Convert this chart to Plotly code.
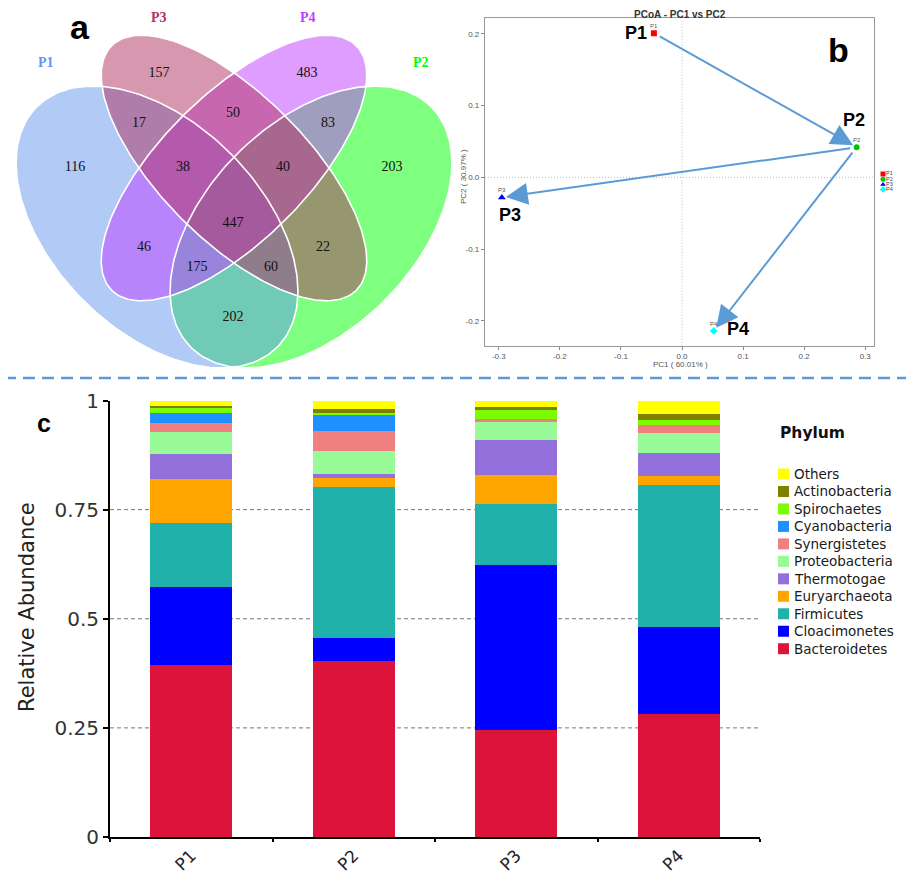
import numpy as np
import plotly.graph_objects as go

W, H = 914, 883
OFF = 8  # page body margin compensation (pixels)

# ---------------- data ----------------
venn_sets = ["P1", "P2", "P3", "P4"]
venn_set_colors = ["#6495ED", "#00FF00", "#B03060", "#BF3EFF"]
venn_region_counts = [116, 157, 483, 203, 17, 50, 83, 38, 40, 447, 46, 22, 175, 60, 202]

pcoa_samples = ["P1", "P2", "P3", "P4"]
pc1_values = [-0.046, 0.286, -0.295, 0.052]
pc2_values = [0.201, 0.042, -0.028, -0.214]
pcoa_colors = ["#FF0000", "#00C800", "#0000FF", "#00FFFF"]
pcoa_symbols = ["square", "circle", "triangle-up", "diamond"]
pcoa_arrows = [("P1", "P2"), ("P2", "P3"), ("P2", "P4")]
pc1_label = "PC1 ( 60.01% )"
pc2_label = "PC2 ( 30.97% )"

samples = ["P1", "P2", "P3", "P4"]
phyla = ["Bacteroidetes", "Cloacimonetes", "Firmicutes", "Euryarchaeota", "Thermotogae",
         "Proteobacteria", "Synergistetes", "Cyanobacteria", "Spirochaetes",
         "Actinobacteria", "Others"]
phyla_colors = ["#DC143C", "#0000FF", "#20B2AA", "#FFA500", "#9370DB", "#98FB98",
                "#F08080", "#1E90FF", "#7CFC00", "#808000", "#FFFF00"]
Bacteroidetes = [0.394, 0.404, 0.246, 0.281]
Cloacimonetes = [0.178, 0.051, 0.378, 0.199]
Firmicutes = [0.147, 0.347, 0.140, 0.326]
Euryarchaeota = [0.101, 0.021, 0.065, 0.021]
Thermotogae = [0.058, 0.009, 0.081, 0.052]
Proteobacteria = [0.049, 0.052, 0.041, 0.047]
Synergistetes = [0.022, 0.047, 0.007, 0.019]
Cyanobacteria = [0.023, 0.035, 0.000, 0.000]
Spirochaetes = [0.010, 0.005, 0.023, 0.010]
Actinobacteria = [0.005, 0.009, 0.003, 0.014]
Others = [0.013, 0.020, 0.016, 0.031]
abundance = [Bacteroidetes, Cloacimonetes, Firmicutes, Euryarchaeota, Thermotogae,
             Proteobacteria, Synergistetes, Cyanobacteria, Spirochaetes,
             Actinobacteria, Others]
y_ticks = [0, 0.25, 0.5, 0.75, 1]
y_tick_text = ["0", "0.25", "0.5", "0.75", "1"]

# ---------------- layout helpers (pixel geometry) ----------------
def fx(px):
    return (px - OFF) / W


def fy(py):
    return 1 - (py - OFF) / H


def hex_rgba(h, a):
    h = h.lstrip("#")
    return "rgba(%d,%d,%d,%.2f)" % (int(h[0:2], 16), int(h[2:4], 16), int(h[4:6], 16), a)

AX = 234.0
venn_geom = {
    "P1": (AX - 77, 227, 170, 104, 45),
    "P2": (AX + 77, 227, 170, 104, 135),
    "P3": (AX, 168, 173, 73, 45),
    "P4": (AX, 168, 173, 73, 135),
}
venn_label_xy = {"P1": (46, 62), "P2": (421, 62), "P3": (159, 17), "P4": (308, 17)}
venn_count_xy = [(75, 167), (159, 73), (307, 73), (392, 167), (139, 123), (233, 113),
                 (328, 123), (183, 167), (283, 167), (233, 223), (144, 247), (323, 247),
                 (197, 267), (271, 267), (233, 317)]
draw_order = ["P2", "P1", "P4", "P3"]


def ellipse_xy(cx, cy, a, b, ang):
    t = np.linspace(0, 2 * np.pi, 240)
    th = np.radians(ang)
    x = cx + a * np.cos(t) * np.cos(th) - b * np.sin(t) * np.sin(th)
    y = cy + a * np.cos(t) * np.sin(th) + b * np.sin(t) * np.cos(th)
    return x, y


fig = go.Figure()

for name, vals, col in zip(phyla, abundance, phyla_colors):
    fig.add_trace(go.Bar(x=samples, y=vals, name=name, marker=dict(color=col, line=dict(width=0)),
                         showlegend=False, xaxis="x", yaxis="y"))

for s, x, y, c, sym in zip(pcoa_samples, pc1_values, pc2_values, pcoa_colors, pcoa_symbols):
    fig.add_trace(go.Scatter(x=[x], y=[y], mode="markers", name=s, showlegend=False,
                             marker=dict(color=c, symbol=sym, size=6 if sym != "triangle-up" else 7,
                                         line=dict(width=0)),
                             xaxis="x2", yaxis="y2"))

for s in draw_order:
    i = venn_sets.index(s)
    ex, ey = ellipse_xy(*venn_geom[s])
    fig.add_trace(go.Scatter(x=ex, y=ey, mode="lines", fill="toself",
                             fillcolor=hex_rgba(venn_set_colors[i], 0.5),
                             line=dict(width=0, color="rgba(0,0,0,0)"),
                             showlegend=False, hoverinfo="skip", xaxis="x3", yaxis="y3"))
for s in draw_order:
    ex, ey = ellipse_xy(*venn_geom[s])
    fig.add_trace(go.Scatter(x=ex, y=ey, mode="lines", line=dict(width=1.6, color="white"),
                             showlegend=False, hoverinfo="skip", xaxis="x3", yaxis="y3"))

fig.add_trace(go.Scatter(x=[p[0] for p in venn_count_xy], y=[p[1] for p in venn_count_xy],
                         mode="text", text=[str(v) for v in venn_region_counts],
                         textfont=dict(family="Liberation Serif", size=14, color="#111"),
                         showlegend=False, hoverinfo="skip", xaxis="x3", yaxis="y3"))

annotations = []
for s, c in zip(venn_sets, venn_set_colors):
    lx, ly = venn_label_xy[s]
    annotations.append(dict(x=lx, y=ly, xref="x3", yref="y3", text="<b>%s</b>" % s, showarrow=False,
                            font=dict(family="Liberation Serif", size=14, color=c)))

# PCoA legend (manual, small)
pleg_y0, pleg_dy = 174, 5.2
fig.add_trace(go.Scatter(x=[883] * 4, y=[pleg_y0 + i * pleg_dy for i in range(4)], mode="markers",
                         marker=dict(color=pcoa_colors, symbol=pcoa_symbols, size=5, line=dict(width=0)),
                         showlegend=False, hoverinfo="skip", xaxis="x3", yaxis="y3"))
fig.add_trace(go.Scatter(x=[886] * 4, y=[pleg_y0 + i * pleg_dy for i in range(4)], mode="text",
                         text=pcoa_samples, textposition="middle right",
                         textfont=dict(family="Liberation Sans", size=5.5, color="#444"),
                         showlegend=False, hoverinfo="skip", xaxis="x3", yaxis="y3"))

# Bar legend (manual)
leg_y0, leg_dy = 474, 17.47
rev_names = phyla[::-1]
rev_cols = phyla_colors[::-1]
fig.add_trace(go.Scatter(x=[783.5] * len(rev_names), y=[leg_y0 + i * leg_dy for i in range(len(rev_names))],
                         mode="markers", marker=dict(color=rev_cols, symbol="square", size=11, line=dict(width=0)),
                         showlegend=False, hoverinfo="skip", xaxis="x3", yaxis="y3"))
for i, s in enumerate(rev_names):
    annotations.append(dict(x=793, y=leg_y0 + i * leg_dy, xref="x3", yref="y3", text=s,
                            showarrow=False, xanchor="left", yanchor="middle", borderpad=0,
                            font=dict(family="DejaVu Sans", size=13.5, color="#1a1a1a")))
annotations.append(dict(x=778, y=433, xref="x3", yref="y3", text="<b>Phylum</b>", showarrow=False,
                        xanchor="left", yanchor="middle",
                        font=dict(family="DejaVu Sans", size=15.5, color="#111")))

for txt, x, y, sz in [("a", 80, 27, 34), ("b", 838, 50, 34), ("c", 44, 423, 25)]:
    annotations.append(dict(x=x, y=y, xref="x3", yref="y3", text="<b>%s</b>" % txt, showarrow=False,
                            font=dict(family="Liberation Sans", size=sz, color="black")))

annotations.append(dict(x=27, y=607, xref="x3", yref="y3", text="Relative Abundance", textangle=-90,
                        showarrow=False, font=dict(family="DejaVu Sans", size=21, color="#222")))

annotations.append(dict(x=679.5, y=14, xref="x3", yref="y3", text="<b>PCoA - PC1 vs PC2</b>", showarrow=False,
                        font=dict(family="Liberation Sans", size=10, color="#333")))
annotations.append(dict(x=680, y=364, xref="x3", yref="y3", text=pc1_label, showarrow=False,
                        font=dict(family="Liberation Sans", size=8, color="#555")))
annotations.append(dict(x=463, y=177, xref="x3", yref="y3", text=pc2_label, showarrow=False, textangle=-90,
                        font=dict(family="Liberation Sans", size=8, color="#555")))

idx = {s: i for i, s in enumerate(pcoa_samples)}
for a, b in pcoa_arrows:
    annotations.append(dict(x=pc1_values[idx[b]], y=pc2_values[idx[b]], ax=pc1_values[idx[a]],
                            ay=pc2_values[idx[a]], xref="x2", yref="y2", axref="x2", ayref="y2",
                            text="", showarrow=True, arrowhead=2, arrowsize=2.2, arrowwidth=2,
                            arrowcolor="#5B9BD5", standoff=4, startstandoff=5))

big_shift = {"P1": (-18, 0), "P2": (-3, 27), "P3": (8, -18), "P4": (24, 2)}
for s, x, y in zip(pcoa_samples, pc1_values, pc2_values):
    annotations.append(dict(x=x, y=y, xref="x2", yref="y2", text=s, showarrow=False, yshift=7,
                            font=dict(family="Liberation Sans", size=6, color="#555")))
    dx, dy = big_shift[s]
    annotations.append(dict(x=x, y=y, xref="x2", yref="y2", text="<b>%s</b>" % s, showarrow=False,
                            xshift=dx, yshift=dy,
                            font=dict(family="Liberation Sans", size=18, color="black")))

shapes = []
shapes.append(dict(type="line", xref="x3", yref="y3", x0=4, x1=OFF + W, y0=378, y1=378,
                   line=dict(color="#5B9BD5", width=2.5, dash="12px,7px")))
for v in y_ticks[1:-1]:
    shapes.append(dict(type="line", xref="x domain", yref="y", x0=0, x1=1, y0=v, y1=v, layer="below",
                       line=dict(color="#777", width=1, dash="4px,3px")))
shapes.append(dict(type="line", xref="x2", yref="y2 domain", x0=0, x1=0, y0=0, y1=1,
                   line=dict(color="#BBB", width=1, dash="1px,2px")))
shapes.append(dict(type="line", xref="x2 domain", yref="y2", x0=0, x1=1, y0=0, y1=0,
                   line=dict(color="#BBB", width=1, dash="1px,2px")))

pc_ticks = [-0.3, -0.2, -0.1, 0.0, 0.1, 0.2, 0.3]
pc_tick_text = ["%.1f" % v for v in pc_ticks]
pc2_ticks = [-0.2, -0.1, 0.0, 0.1, 0.2]
pc2_tick_text = ["%.1f" % v for v in pc2_ticks]

fig.update_layout(
    width=W, height=H, margin=dict(l=0, r=0, t=0, b=0, pad=0, autoexpand=False),
    paper_bgcolor="white", plot_bgcolor="rgba(0,0,0,0)",
    barmode="stack", bargap=0.493, showlegend=False,
    xaxis=dict(domain=[fx(110), fx(760)], anchor="y", range=[-0.5, 3.5], showline=True,
               linecolor="black", linewidth=2, ticks="outside", tickson="boundaries", ticklen=3,
               tickwidth=2, tickcolor="black", tickangle=-45, showgrid=False, automargin=False,
               tickfont=dict(family="DejaVu Sans", size=17, color="#222")),
    yaxis=dict(domain=[fy(837), fy(400.5)], anchor="x", range=[0, 1], tickvals=y_ticks,
               ticktext=y_tick_text, showline=True, linecolor="black", linewidth=2, ticks="outside",
               ticklen=5, tickwidth=2, tickcolor="black", showgrid=False, zeroline=False, automargin=False,
               tickfont=dict(family="DejaVu Sans", size=20, color="#333")),
    xaxis2=dict(domain=[fx(485), fx(874.3)], anchor="y2", range=[-0.3226, 0.3149], tickvals=pc_ticks,
                ticktext=pc_tick_text, showline=True, mirror=True, linecolor="#999", linewidth=1.2,
                ticks="outside", ticklen=3, tickcolor="#888", showgrid=False, zeroline=False,
                automargin=False, tickfont=dict(family="Liberation Sans", size=8, color="#555")),
    yaxis2=dict(domain=[fy(345.7), fy(18.3)], anchor="x2", range=[-0.2346, 0.2217],
                tickvals=pc2_ticks, ticktext=pc2_tick_text, showline=True, mirror=True,
                linecolor="#999", linewidth=1.2, ticks="outside", ticklen=3, tickcolor="#888",
                showgrid=False, zeroline=False, automargin=False,
                tickfont=dict(family="Liberation Sans", size=8, color="#555")),
    xaxis3=dict(domain=[0, 1], anchor="y3", range=[OFF, OFF + W], visible=False, fixedrange=True),
    yaxis3=dict(domain=[0, 1], anchor="x3", range=[OFF + H, OFF], visible=False, fixedrange=True),
    annotations=annotations, shapes=shapes,
)

fig.write_html("out.html")
